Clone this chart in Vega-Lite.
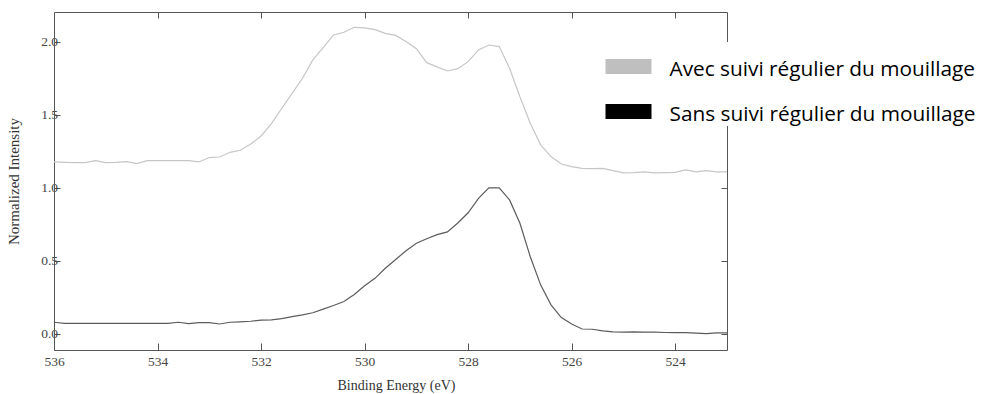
{
  "$schema": "https://vega.github.io/schema/vega-lite/v6.json",
  "width": 673,
  "height": 338,
  "autosize": {"type": "none"},
  "padding": {"left": 54, "top": 12, "right": 256, "bottom": 44},
  "background": "white",
  "config": {
    "view": {"stroke": null},
    "axis": {
      "labelFont": "Liberation Serif",
      "titleFont": "Liberation Serif",
      "labelFontSize": 13.5,
      "titleFontSize": 14.5,
      "labelColor": "#444444",
      "titleColor": "#333333",
      "titleFontWeight": "normal",
      "domainColor": "#555555",
      "tickColor": "#555555",
      "grid": false
    }
  },
  "data": {
    "values": [
      {"energy": 536.0, "intensity": 1.178, "serie": "Avec suivi régulier du mouillage"},
      {"energy": 535.8, "intensity": 1.175, "serie": "Avec suivi régulier du mouillage"},
      {"energy": 535.6, "intensity": 1.173, "serie": "Avec suivi régulier du mouillage"},
      {"energy": 535.4, "intensity": 1.173, "serie": "Avec suivi régulier du mouillage"},
      {"energy": 535.2, "intensity": 1.187, "serie": "Avec suivi régulier du mouillage"},
      {"energy": 535.0, "intensity": 1.173, "serie": "Avec suivi régulier du mouillage"},
      {"energy": 534.8, "intensity": 1.175, "serie": "Avec suivi régulier du mouillage"},
      {"energy": 534.6, "intensity": 1.180, "serie": "Avec suivi régulier du mouillage"},
      {"energy": 534.4, "intensity": 1.166, "serie": "Avec suivi régulier du mouillage"},
      {"energy": 534.2, "intensity": 1.187, "serie": "Avec suivi régulier du mouillage"},
      {"energy": 534.0, "intensity": 1.187, "serie": "Avec suivi régulier du mouillage"},
      {"energy": 533.8, "intensity": 1.187, "serie": "Avec suivi régulier du mouillage"},
      {"energy": 533.6, "intensity": 1.187, "serie": "Avec suivi régulier du mouillage"},
      {"energy": 533.4, "intensity": 1.187, "serie": "Avec suivi régulier du mouillage"},
      {"energy": 533.2, "intensity": 1.178, "serie": "Avec suivi régulier du mouillage"},
      {"energy": 533.0, "intensity": 1.208, "serie": "Avec suivi régulier du mouillage"},
      {"energy": 532.8, "intensity": 1.212, "serie": "Avec suivi régulier du mouillage"},
      {"energy": 532.6, "intensity": 1.244, "serie": "Avec suivi régulier du mouillage"},
      {"energy": 532.4, "intensity": 1.258, "serie": "Avec suivi régulier du mouillage"},
      {"energy": 532.2, "intensity": 1.301, "serie": "Avec suivi régulier du mouillage"},
      {"energy": 532.0, "intensity": 1.356, "serie": "Avec suivi régulier du mouillage"},
      {"energy": 531.8, "intensity": 1.440, "serie": "Avec suivi régulier du mouillage"},
      {"energy": 531.6, "intensity": 1.546, "serie": "Avec suivi régulier du mouillage"},
      {"energy": 531.4, "intensity": 1.648, "serie": "Avec suivi régulier du mouillage"},
      {"energy": 531.2, "intensity": 1.751, "serie": "Avec suivi régulier du mouillage"},
      {"energy": 531.0, "intensity": 1.877, "serie": "Avec suivi régulier du mouillage"},
      {"energy": 530.8, "intensity": 1.961, "serie": "Avec suivi régulier du mouillage"},
      {"energy": 530.6, "intensity": 2.048, "serie": "Avec suivi régulier du mouillage"},
      {"energy": 530.4, "intensity": 2.066, "serie": "Avec suivi régulier du mouillage"},
      {"energy": 530.2, "intensity": 2.100, "serie": "Avec suivi régulier du mouillage"},
      {"energy": 530.0, "intensity": 2.096, "serie": "Avec suivi régulier du mouillage"},
      {"energy": 529.8, "intensity": 2.084, "serie": "Avec suivi régulier du mouillage"},
      {"energy": 529.6, "intensity": 2.059, "serie": "Avec suivi régulier du mouillage"},
      {"energy": 529.4, "intensity": 2.045, "serie": "Avec suivi régulier du mouillage"},
      {"energy": 529.2, "intensity": 2.003, "serie": "Avec suivi régulier du mouillage"},
      {"energy": 529.0, "intensity": 1.954, "serie": "Avec suivi régulier du mouillage"},
      {"energy": 528.8, "intensity": 1.858, "serie": "Avec suivi régulier du mouillage"},
      {"energy": 528.6, "intensity": 1.829, "serie": "Avec suivi régulier du mouillage"},
      {"energy": 528.4, "intensity": 1.801, "serie": "Avec suivi régulier du mouillage"},
      {"energy": 528.2, "intensity": 1.817, "serie": "Avec suivi régulier du mouillage"},
      {"energy": 528.0, "intensity": 1.865, "serie": "Avec suivi régulier du mouillage"},
      {"energy": 527.8, "intensity": 1.945, "serie": "Avec suivi régulier du mouillage"},
      {"energy": 527.6, "intensity": 1.979, "serie": "Avec suivi régulier du mouillage"},
      {"energy": 527.4, "intensity": 1.968, "serie": "Avec suivi régulier du mouillage"},
      {"energy": 527.2, "intensity": 1.820, "serie": "Avec suivi régulier du mouillage"},
      {"energy": 527.0, "intensity": 1.625, "serie": "Avec suivi régulier du mouillage"},
      {"energy": 526.8, "intensity": 1.443, "serie": "Avec suivi régulier du mouillage"},
      {"energy": 526.6, "intensity": 1.295, "serie": "Avec suivi régulier du mouillage"},
      {"energy": 526.4, "intensity": 1.215, "serie": "Avec suivi régulier du mouillage"},
      {"energy": 526.2, "intensity": 1.164, "serie": "Avec suivi régulier du mouillage"},
      {"energy": 526.0, "intensity": 1.146, "serie": "Avec suivi régulier du mouillage"},
      {"energy": 525.8, "intensity": 1.134, "serie": "Avec suivi régulier du mouillage"},
      {"energy": 525.6, "intensity": 1.132, "serie": "Avec suivi régulier du mouillage"},
      {"energy": 525.4, "intensity": 1.134, "serie": "Avec suivi régulier du mouillage"},
      {"energy": 525.2, "intensity": 1.119, "serie": "Avec suivi régulier du mouillage"},
      {"energy": 525.0, "intensity": 1.103, "serie": "Avec suivi régulier du mouillage"},
      {"energy": 524.8, "intensity": 1.105, "serie": "Avec suivi régulier du mouillage"},
      {"energy": 524.6, "intensity": 1.110, "serie": "Avec suivi régulier du mouillage"},
      {"energy": 524.4, "intensity": 1.103, "serie": "Avec suivi régulier du mouillage"},
      {"energy": 524.2, "intensity": 1.105, "serie": "Avec suivi régulier du mouillage"},
      {"energy": 524.0, "intensity": 1.107, "serie": "Avec suivi régulier du mouillage"},
      {"energy": 523.8, "intensity": 1.123, "serie": "Avec suivi régulier du mouillage"},
      {"energy": 523.6, "intensity": 1.110, "serie": "Avec suivi régulier du mouillage"},
      {"energy": 523.4, "intensity": 1.119, "serie": "Avec suivi régulier du mouillage"},
      {"energy": 523.2, "intensity": 1.110, "serie": "Avec suivi régulier du mouillage"},
      {"energy": 523.0, "intensity": 1.110, "serie": "Avec suivi régulier du mouillage"},
      {"energy": 536.0, "intensity": 0.080, "serie": "Sans suivi régulier du mouillage"},
      {"energy": 535.8, "intensity": 0.073, "serie": "Sans suivi régulier du mouillage"},
      {"energy": 535.4, "intensity": 0.073, "serie": "Sans suivi régulier du mouillage"},
      {"energy": 535.0, "intensity": 0.073, "serie": "Sans suivi régulier du mouillage"},
      {"energy": 534.6, "intensity": 0.073, "serie": "Sans suivi régulier du mouillage"},
      {"energy": 534.2, "intensity": 0.073, "serie": "Sans suivi régulier du mouillage"},
      {"energy": 533.8, "intensity": 0.073, "serie": "Sans suivi régulier du mouillage"},
      {"energy": 533.6, "intensity": 0.080, "serie": "Sans suivi régulier du mouillage"},
      {"energy": 533.4, "intensity": 0.071, "serie": "Sans suivi régulier du mouillage"},
      {"energy": 533.2, "intensity": 0.078, "serie": "Sans suivi régulier du mouillage"},
      {"energy": 533.0, "intensity": 0.078, "serie": "Sans suivi régulier du mouillage"},
      {"energy": 532.8, "intensity": 0.068, "serie": "Sans suivi régulier du mouillage"},
      {"energy": 532.6, "intensity": 0.080, "serie": "Sans suivi régulier du mouillage"},
      {"energy": 532.4, "intensity": 0.083, "serie": "Sans suivi régulier du mouillage"},
      {"energy": 532.2, "intensity": 0.087, "serie": "Sans suivi régulier du mouillage"},
      {"energy": 532.0, "intensity": 0.094, "serie": "Sans suivi régulier du mouillage"},
      {"energy": 531.8, "intensity": 0.096, "serie": "Sans suivi régulier du mouillage"},
      {"energy": 531.6, "intensity": 0.105, "serie": "Sans suivi régulier du mouillage"},
      {"energy": 531.4, "intensity": 0.118, "serie": "Sans suivi régulier du mouillage"},
      {"energy": 531.2, "intensity": 0.130, "serie": "Sans suivi régulier du mouillage"},
      {"energy": 531.0, "intensity": 0.145, "serie": "Sans suivi régulier du mouillage"},
      {"energy": 530.8, "intensity": 0.170, "serie": "Sans suivi régulier du mouillage"},
      {"energy": 530.6, "intensity": 0.195, "serie": "Sans suivi régulier du mouillage"},
      {"energy": 530.4, "intensity": 0.222, "serie": "Sans suivi régulier du mouillage"},
      {"energy": 530.2, "intensity": 0.270, "serie": "Sans suivi régulier du mouillage"},
      {"energy": 530.0, "intensity": 0.330, "serie": "Sans suivi régulier du mouillage"},
      {"energy": 529.8, "intensity": 0.381, "serie": "Sans suivi régulier du mouillage"},
      {"energy": 529.6, "intensity": 0.450, "serie": "Sans suivi régulier du mouillage"},
      {"energy": 529.4, "intensity": 0.510, "serie": "Sans suivi régulier du mouillage"},
      {"energy": 529.2, "intensity": 0.570, "serie": "Sans suivi régulier du mouillage"},
      {"energy": 529.0, "intensity": 0.621, "serie": "Sans suivi régulier du mouillage"},
      {"energy": 528.8, "intensity": 0.652, "serie": "Sans suivi régulier du mouillage"},
      {"energy": 528.6, "intensity": 0.680, "serie": "Sans suivi régulier du mouillage"},
      {"energy": 528.4, "intensity": 0.699, "serie": "Sans suivi régulier du mouillage"},
      {"energy": 528.2, "intensity": 0.760, "serie": "Sans suivi régulier du mouillage"},
      {"energy": 528.0, "intensity": 0.830, "serie": "Sans suivi régulier du mouillage"},
      {"energy": 527.8, "intensity": 0.929, "serie": "Sans suivi régulier du mouillage"},
      {"energy": 527.6, "intensity": 1.000, "serie": "Sans suivi régulier du mouillage"},
      {"energy": 527.4, "intensity": 1.000, "serie": "Sans suivi régulier du mouillage"},
      {"energy": 527.2, "intensity": 0.918, "serie": "Sans suivi régulier du mouillage"},
      {"energy": 527.0, "intensity": 0.758, "serie": "Sans suivi régulier du mouillage"},
      {"energy": 526.8, "intensity": 0.529, "serie": "Sans suivi régulier du mouillage"},
      {"energy": 526.6, "intensity": 0.336, "serie": "Sans suivi régulier du mouillage"},
      {"energy": 526.4, "intensity": 0.199, "serie": "Sans suivi régulier du mouillage"},
      {"energy": 526.2, "intensity": 0.112, "serie": "Sans suivi régulier du mouillage"},
      {"energy": 526.0, "intensity": 0.068, "serie": "Sans suivi régulier du mouillage"},
      {"energy": 525.8, "intensity": 0.034, "serie": "Sans suivi régulier du mouillage"},
      {"energy": 525.6, "intensity": 0.032, "serie": "Sans suivi régulier du mouillage"},
      {"energy": 525.4, "intensity": 0.021, "serie": "Sans suivi régulier du mouillage"},
      {"energy": 525.2, "intensity": 0.014, "serie": "Sans suivi régulier du mouillage"},
      {"energy": 525.0, "intensity": 0.013, "serie": "Sans suivi régulier du mouillage"},
      {"energy": 524.8, "intensity": 0.014, "serie": "Sans suivi régulier du mouillage"},
      {"energy": 524.6, "intensity": 0.013, "serie": "Sans suivi régulier du mouillage"},
      {"energy": 524.4, "intensity": 0.012, "serie": "Sans suivi régulier du mouillage"},
      {"energy": 524.2, "intensity": 0.010, "serie": "Sans suivi régulier du mouillage"},
      {"energy": 524.0, "intensity": 0.009, "serie": "Sans suivi régulier du mouillage"},
      {"energy": 523.8, "intensity": 0.009, "serie": "Sans suivi régulier du mouillage"},
      {"energy": 523.6, "intensity": 0.006, "serie": "Sans suivi régulier du mouillage"},
      {"energy": 523.4, "intensity": 0.002, "serie": "Sans suivi régulier du mouillage"},
      {"energy": 523.2, "intensity": 0.007, "serie": "Sans suivi régulier du mouillage"},
      {"energy": 523.0, "intensity": 0.007, "serie": "Sans suivi régulier du mouillage"}
    ]
  },
  "layer": [
    {
      "mark": {"type": "line", "strokeWidth": 1.2, "interpolate": "linear"},
      "encoding": {
        "x": {
          "field": "energy", "type": "quantitative",
          "scale": {"domain": [536, 523], "nice": false, "zero": false},
          "axis": {
            "orient": "bottom", "title": "Binding Energy (eV)",
            "values": [536, 534, 532, 530, 528, 526, 524],
            "tickSize": -7, "labelPadding": 11, "labelFlush": false,
            "titleFontSize": 14,
            "titleX": 342, "titleY": 28, "titleBaseline": "top"
          }
        },
        "y": {
          "field": "intensity", "type": "quantitative",
          "scale": {"domain": [-0.11, 2.205], "nice": false, "zero": false},
          "axis": {
            "orient": "left", "title": "Normalized Intensity",
            "values": [0, 0.5, 1, 1.5, 2], "format": ".1f",
            "tickSize": -6, "labelPadding": 2.5, "labelFlush": false,
            "titleFontSize": 15,
            "titleX": -33, "titleY": 169
          }
        },
        "color": {
          "field": "serie", "type": "nominal",
          "scale": {"domain": ["Avec suivi régulier du mouillage", "Sans suivi régulier du mouillage"], "range": ["#c6c6c6", "#5c5c5c"]},
          "legend": {
            "title": null,
            "orient": "none",
            "legendX": 550,
            "legendY": 30,
            "fillColor": "white",
            "padding": 1.5,
            "symbolType": "M-1,-0.33H1V0.33H-1Z",
            "symbolSize": 2116,
            "symbolStrokeWidth": 0,
            "rowPadding": 9,
            "labelOffset": 18,
            "labelFont": "Open Sans",
            "labelFontSize": 20.8,
            "labelColor": "#000000",
            "labelLimit": 400,
            "encode": {
              "symbols": {"update": {"fill": {"signal": "indexof(datum.value, 'Avec') === 0 ? '#bfbfbf' : '#000000'"}, "stroke": {"value": null}, "opacity": {"value": 1}}},
              "labels": {"update": {"dy": {"value": 3}}}
            }
          }
        }
      }
    },
    {
      "mark": {"type": "point", "opacity": 0},
      "encoding": {
        "x": {
          "field": "energy", "type": "quantitative",
          "axis": {"orient": "top", "title": null, "labels": false, "values": [534, 532, 530, 528, 526, 524], "tickSize": -6}
        },
        "y": {
          "field": "intensity", "type": "quantitative",
          "axis": {"orient": "right", "title": null, "labels": false, "values": [0, 0.5, 1, 1.5, 2], "tickSize": -6}
        }
      }
    }
  ],
  "resolve": {"axis": {"x": "independent", "y": "independent"}}
}
